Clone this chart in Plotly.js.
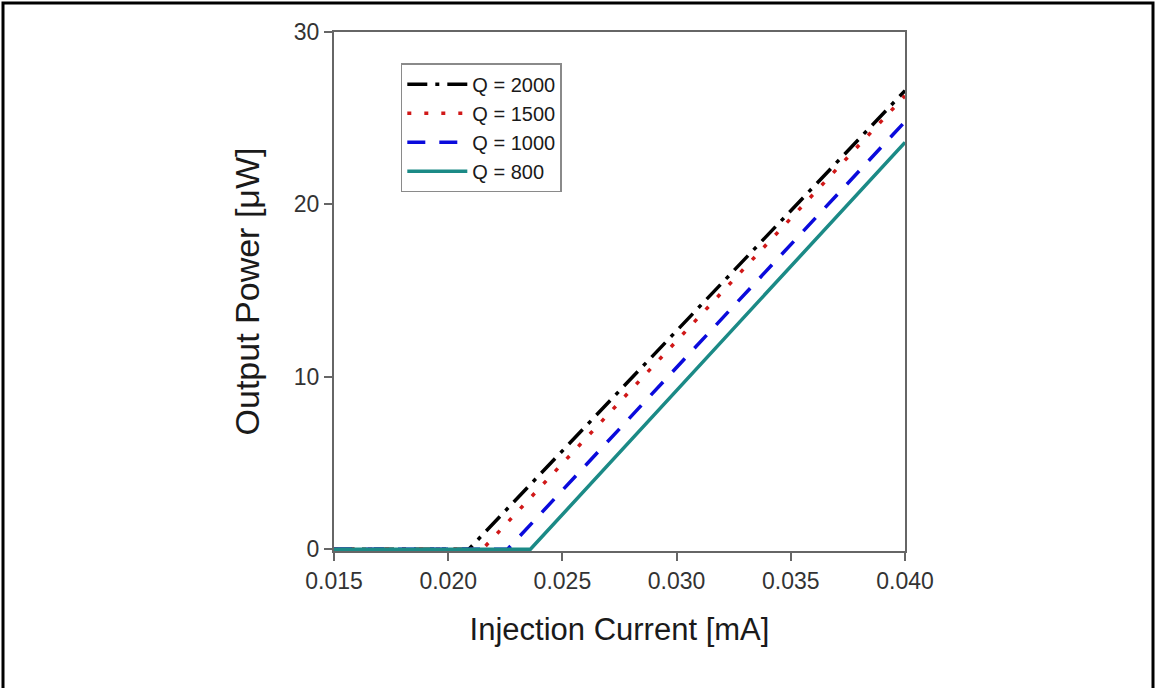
<!DOCTYPE html>
<html>
<head>
<meta charset="utf-8">
<script src="https://cdn.plot.ly/plotly-3.0.1.min.js"></script>
<style>
html,body{margin:0;padding:0;background:#fff;}
#chart{width:1155px;height:688px;}
</style>
</head>
<body>
<div id="chart"></div>
<script>
// Data
const seriesNames = ["Q = 2000", "Q = 1500", "Q = 1000", "Q = 800"];
const currentQ2000 = [0.015, 0.0209, 0.040];
const powerQ2000   = [0, 0, 26.6];
const currentQ1500 = [0.015, 0.0215, 0.040];
const powerQ1500   = [0, 0, 26.3];
const currentQ1000 = [0.015, 0.0226, 0.040];
const powerQ1000   = [0, 0, 24.8];
const currentQ800  = [0.015, 0.0236, 0.040];
const powerQ800    = [0, 0, 23.6];
const xTicks = [0.015, 0.020, 0.025, 0.030, 0.035, 0.040];
const xTickText = ["0.015", "0.020", "0.025", "0.030", "0.035", "0.040"];
const yTicks = [0, 10, 20, 30];

const FONT = "Arial, 'Liberation Sans', sans-serif";

const traces = [
  {x: currentQ2000, y: powerQ2000, name: seriesNames[0], mode: "lines",
   line: {color: "#000000", width: 3.5, dash: "20px,8px,4px,8px"}},
  {x: currentQ1500, y: powerQ1500, name: seriesNames[1], mode: "lines",
   line: {color: "#d01818", width: 3.5, dash: "4px,13px"}},
  {x: currentQ1000, y: powerQ1000, name: seriesNames[2], mode: "lines",
   line: {color: "#0a0adc", width: 3.5, dash: "18px,14px"}},
  {x: currentQ800, y: powerQ800, name: seriesNames[3], mode: "lines",
   line: {color: "#1b8a86", width: 3.5}}
];

const layout = {
  width: 1155, height: 688,
  margin: {l: 334, r: 250, t: 32, b: 137},
  paper_bgcolor: "#ffffff", plot_bgcolor: "#ffffff",
  font: {family: FONT, color: "#333333"},
  showlegend: true,
  legend: {
    x: 0.117, y: 0.94, xanchor: "left", yanchor: "top",
    bgcolor: "#ffffff", bordercolor: "#8a8a8a", borderwidth: 1.5,
    font: {family: FONT, size: 20, color: "#1a1a1a"},
    tracegroupgap: 0, itemwidth: 60
  },
  xaxis: {
    range: [0.015, 0.040], tickvals: xTicks, ticktext: xTickText,
    showgrid: false, zeroline: false,
    showline: true, linecolor: "#666666", linewidth: 2, mirror: true,
    ticks: "outside", ticklen: 8, tickwidth: 2, tickcolor: "#666666",
    tickfont: {family: FONT, size: 23, color: "#333333"},
    title: {text: "Injection Current [mA]", font: {family: FONT, size: 31, color: "#1a1a1a"}, standoff: 26}
  },
  yaxis: {
    range: [-0.1, 30], tickvals: yTicks,
    showgrid: false, zeroline: false,
    showline: true, linecolor: "#666666", linewidth: 2, mirror: true,
    ticks: "outside", ticklen: 8, tickwidth: 2, tickcolor: "#666666",
    tickfont: {family: FONT, size: 23, color: "#333333"},
    title: {text: "Output Power [\u03bcW]", font: {family: FONT, size: 34, color: "#1a1a1a"}, standoff: 24}
  },
  shapes: [{
    type: "rect", xref: "paper", yref: "paper",
    x0: (3 - 334) / 571, x1: (1153 - 334) / 571,
    y0: (551 - 700) / 519, y1: (551 - 3) / 519,
    line: {color: "#000000", width: 3}, fillcolor: "rgba(0,0,0,0)", layer: "below"
  }]
};

Plotly.newPlot("chart", traces, layout, {displayModeBar: false, staticPlot: true});
</script>
</body>
</html>
